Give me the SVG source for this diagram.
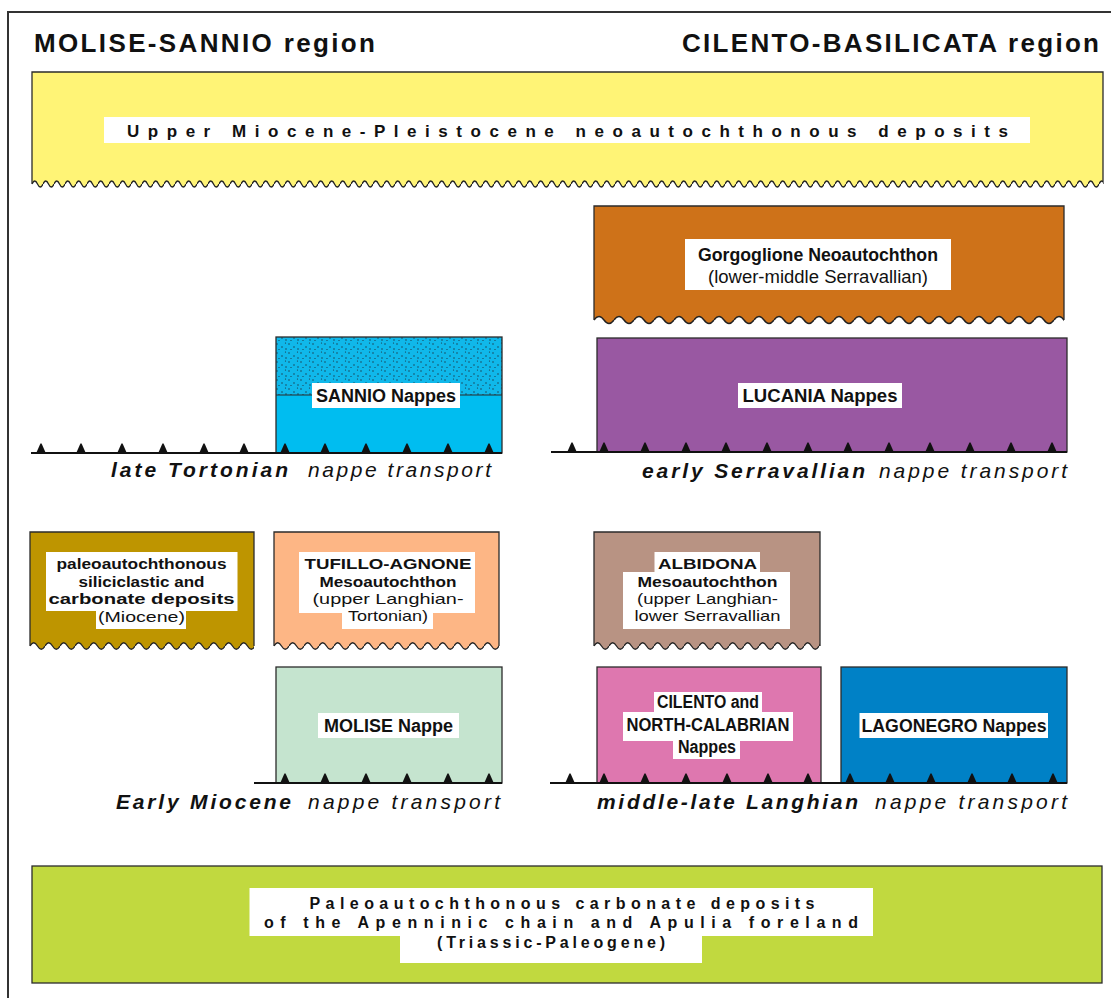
<svg xmlns="http://www.w3.org/2000/svg" width="1111" height="998" viewBox="0 0 1111 998">
<style>
.box{stroke:#2b2b2b;stroke-width:1.3}
.edge{fill:none;stroke:#2b2b2b;stroke-width:1.3}
.lbl{fill:#fff}
.t{font-family:"Liberation Sans",Arial,sans-serif;fill:#111;text-anchor:middle;font-size:17.5px}
.s4{font-size:15px}
.b{font-weight:bold}
.hd{font-family:"Liberation Sans",Arial,sans-serif;font-weight:bold;font-size:26px;fill:#111}
.cap{font-family:"Liberation Sans",Arial,sans-serif;font-style:italic;font-size:21px;fill:#111}
.sp{font-family:"Liberation Sans",Arial,sans-serif;font-weight:bold;fill:#111;text-anchor:middle}
.thrust{stroke:#111;stroke-width:2.2}
</style>
<defs>
<pattern id="w1" patternUnits="userSpaceOnUse" x="0" y="-5" width="11" height="10">
<path d="M0,5 Q2.75,-1 5.5,5 T11,5 V10 H0Z" fill="#fff"/>
<path d="M0,5 Q2.75,-1 5.5,5 T11,5" fill="none" stroke="#222" stroke-width="1.3"/>
</pattern>
<pattern id="w2" patternUnits="userSpaceOnUse" x="0" y="-6" width="20" height="12">
<path d="M0,6 Q5,-1 10,6 T20,6 V12 H0Z" fill="#fff"/>
<path d="M0,6 Q5,-1 10,6 T20,6" fill="none" stroke="#222" stroke-width="1.4"/>
</pattern>
<pattern id="w3" patternUnits="userSpaceOnUse" x="0" y="-6" width="15" height="12">
<path d="M0,6 Q3.75,-0.5 7.5,6 T15,6 V12 H0Z" fill="#fff"/>
<path d="M0,6 Q3.75,-0.5 7.5,6 T15,6" fill="none" stroke="#222" stroke-width="1.3"/>
</pattern>
<pattern id="dots" patternUnits="userSpaceOnUse" width="12" height="9">
<rect width="12" height="9" fill="#10b8ea"/>
<circle cx="1" cy="2" r="0.7" fill="#1b3140"/>
<circle cx="6" cy="5" r="0.7" fill="#1b3140"/>
<circle cx="9.5" cy="1" r="0.6" fill="#1b3140"/>
<circle cx="3" cy="7.5" r="0.6" fill="#1b3140"/>
<circle cx="10" cy="7" r="0.7" fill="#1b3140"/>
</pattern>
<path id="tooth" d="M-5,0.5 L-1,-8.5 L0,-10 L1,-8.5 L5,0.5Z" fill="#111"/>
</defs>

<rect x="8" y="12" width="1120" height="1000" fill="#fff" stroke="#333" stroke-width="2"/>

<g id="headers">
<text class="hd" x="34" y="52" textLength="341" lengthAdjust="spacing">MOLISE-SANNIO region</text>
<text class="hd" x="682" y="52" textLength="417" lengthAdjust="spacing">CILENTO-BASILICATA region</text>
</g>

<g id="neoautochthonous">
<rect x="32" y="72" width="1071" height="117" fill="#FFF476"/>
<path class="edge" d="M32,184 V72 H1103 V184"/>
<rect transform="translate(32,184)" x="0" y="-5" width="1071" height="10" fill="url(#w1)"/>
<rect class="lbl" x="104" y="117" width="926" height="26"/>
<text class="sp" x="567.5" y="137" font-size="17" textLength="881" lengthAdjust="spacing">Upper Miocene-Pleistocene neoautochthonous deposits</text>
</g>

<g id="gorgoglione">
<rect x="594" y="206" width="470" height="120" fill="#CE7219"/>
<path class="edge" d="M594,320 V206 H1064 V320"/>
<rect transform="translate(594,320)" x="0" y="-6" width="470" height="12" fill="url(#w2)"/>
<rect class="lbl" x="685" y="239" width="266" height="51"/>
<text class="t b" x="818" y="261" font-size="18.5" textLength="240" lengthAdjust="spacingAndGlyphs">Gorgoglione Neoautochthon</text>
<text class="t" x="818" y="283" font-size="18.5" textLength="220" lengthAdjust="spacingAndGlyphs">(lower-middle Serravallian)</text>
</g>

<g id="sannio">
<rect x="276" y="337" width="226" height="116" fill="#00BDF0"/>
<rect x="276" y="337" width="226" height="58" fill="url(#dots)"/>
<line x1="276" y1="395" x2="502" y2="395" stroke="#2b2b2b" stroke-width="1.2"/>
<rect class="box" x="276" y="337" width="226" height="116" fill="none"/>
<rect class="lbl" x="312" y="383" width="148" height="25"/>
<text class="t b" x="386" y="402" font-size="18.5" textLength="140" lengthAdjust="spacingAndGlyphs">SANNIO Nappes</text>
</g>

<g id="lucania">
<rect class="box" x="597" y="338" width="470" height="114" fill="#9958A2"/>
<rect class="lbl" x="738" y="383" width="164" height="25"/>
<text class="t b" x="820" y="402" font-size="18.5" textLength="155" lengthAdjust="spacingAndGlyphs">LUCANIA Nappes</text>
</g>

<g id="paleo-miocene">
<rect x="30" y="532" width="224" height="120" fill="#BE9500"/>
<path class="edge" d="M30,646 V532 H254 V646"/>
<rect transform="translate(30,646)" x="0" y="-6" width="224" height="12" fill="url(#w3)"/>
<rect class="lbl" x="46" y="552" width="191.5" height="59"/>
<rect class="lbl" x="96" y="610" width="90" height="19"/>
<text class="t b s4" x="141.5" y="569" textLength="170" lengthAdjust="spacingAndGlyphs">paleoautochthonous</text>
<text class="t b s4" x="141.5" y="587" textLength="126" lengthAdjust="spacingAndGlyphs">siliciclastic and</text>
<text class="t b s4" x="141.5" y="604" textLength="186" lengthAdjust="spacingAndGlyphs">carbonate deposits</text>
<text class="t s4" x="141.5" y="622" textLength="87" lengthAdjust="spacingAndGlyphs">(Miocene)</text>
</g>

<g id="tufillo">
<rect x="274" y="532" width="225" height="120" fill="#FDB685"/>
<path class="edge" d="M274,646 V532 H499 V646"/>
<rect transform="translate(274,646)" x="0" y="-6" width="225" height="12" fill="url(#w3)"/>
<rect class="lbl" x="299" y="552" width="176" height="61"/>
<rect class="lbl" x="342" y="612" width="91" height="17"/>
<text class="t b s4" x="388" y="569" textLength="167" lengthAdjust="spacingAndGlyphs">TUFILLO-AGNONE</text>
<text class="t b s4" x="388" y="587" textLength="137" lengthAdjust="spacingAndGlyphs">Mesoautochthon</text>
<text class="t s4" x="388" y="604" textLength="151" lengthAdjust="spacingAndGlyphs">(upper Langhian-</text>
<text class="t s4" x="388" y="621" textLength="80" lengthAdjust="spacingAndGlyphs">Tortonian)</text>
</g>

<g id="albidona">
<rect x="594" y="532" width="226" height="120" fill="#B89383"/>
<path class="edge" d="M594,646 V532 H820 V646"/>
<rect transform="translate(594,646)" x="0" y="-6" width="226" height="12" fill="url(#w3)"/>
<rect class="lbl" x="654.5" y="552" width="105.5" height="21"/>
<rect class="lbl" x="623" y="572" width="167" height="57"/>
<text class="t b s4" x="707.5" y="569" textLength="99" lengthAdjust="spacingAndGlyphs">ALBIDONA</text>
<text class="t b s4" x="707.5" y="587" textLength="140" lengthAdjust="spacingAndGlyphs">Mesoautochthon</text>
<text class="t s4" x="707.5" y="604" textLength="141" lengthAdjust="spacingAndGlyphs">(upper Langhian-</text>
<text class="t s4" x="707.5" y="621" textLength="146" lengthAdjust="spacingAndGlyphs">lower Serravallian</text>
</g>

<g id="molise">
<rect class="box" x="276" y="667" width="226" height="116" fill="#C5E4CF"/>
<rect class="lbl" x="318" y="713" width="141" height="25"/>
<text class="t b" x="388.5" y="732" font-size="18.5" textLength="129" lengthAdjust="spacingAndGlyphs">MOLISE Nappe</text>
</g>

<g id="cilento">
<rect class="box" x="597" y="667" width="224" height="116" fill="#DE77AF"/>
<rect class="lbl" x="654" y="692" width="108" height="21"/>
<rect class="lbl" x="623" y="712" width="170" height="29"/>
<rect class="lbl" x="673" y="740" width="67" height="19"/>
<text class="t b" x="708" y="708" textLength="102" lengthAdjust="spacingAndGlyphs">CILENTO and</text>
<text class="t b" x="708" y="731" textLength="163" lengthAdjust="spacingAndGlyphs">NORTH-CALABRIAN</text>
<text class="t b" x="707" y="753" textLength="58" lengthAdjust="spacingAndGlyphs">Nappes</text>
</g>

<g id="lagonegro">
<rect class="box" x="841" y="667" width="226" height="116" fill="#0081C6"/>
<rect class="lbl" x="859.5" y="713" width="188.5" height="25"/>
<text class="t b" x="954" y="732" font-size="18.5" textLength="185" lengthAdjust="spacingAndGlyphs">LAGONEGRO Nappes</text>
</g>

<g id="paleo-carbonate">
<rect class="box" x="32" y="866" width="1070" height="117" fill="#C1D93F"/>
<rect class="lbl" x="249.5" y="888" width="623.5" height="48"/>
<rect class="lbl" x="400" y="935" width="302" height="28"/>
<text class="sp" x="562" y="909" font-size="16" textLength="505" lengthAdjust="spacing">Paleoautochthonous carbonate deposits</text>
<text class="sp" x="561" y="928" font-size="16" textLength="594" lengthAdjust="spacing">of the Apenninic chain and Apulia foreland</text>
<text class="sp" x="551" y="948" font-size="16" font-weight="normal" textLength="228" lengthAdjust="spacing">(Triassic-Paleogene)</text>
</g>

<g id="connectors">
<line class="thrust" x1="31" y1="453" x2="502" y2="453"/>
<use href="#tooth" x="41" y="453"/><use href="#tooth" x="81" y="453"/><use href="#tooth" x="122" y="453"/><use href="#tooth" x="163" y="453"/><use href="#tooth" x="204" y="453"/><use href="#tooth" x="244" y="453"/><use href="#tooth" x="285" y="453"/><use href="#tooth" x="325" y="453"/><use href="#tooth" x="366" y="453"/><use href="#tooth" x="407" y="453"/><use href="#tooth" x="448" y="453"/><use href="#tooth" x="489" y="453"/>
<line class="thrust" x1="551" y1="452" x2="1067" y2="452"/>
<use href="#tooth" x="572" y="452"/><use href="#tooth" x="604" y="452"/><use href="#tooth" x="645" y="452"/><use href="#tooth" x="686" y="452"/><use href="#tooth" x="726" y="452"/><use href="#tooth" x="767" y="452"/><use href="#tooth" x="808" y="452"/><use href="#tooth" x="848" y="452"/><use href="#tooth" x="889" y="452"/><use href="#tooth" x="930" y="452"/><use href="#tooth" x="970" y="452"/><use href="#tooth" x="1011" y="452"/><use href="#tooth" x="1052" y="452"/>
<line class="thrust" x1="254" y1="783" x2="502" y2="783"/>
<use href="#tooth" x="285" y="783"/><use href="#tooth" x="325" y="783"/><use href="#tooth" x="366" y="783"/><use href="#tooth" x="407" y="783"/><use href="#tooth" x="448" y="783"/><use href="#tooth" x="489" y="783"/>
<line class="thrust" x1="550" y1="783" x2="1067" y2="783"/>
<use href="#tooth" x="570" y="783"/><use href="#tooth" x="604" y="783"/><use href="#tooth" x="645" y="783"/><use href="#tooth" x="686" y="783"/><use href="#tooth" x="727" y="783"/><use href="#tooth" x="768" y="783"/><use href="#tooth" x="808" y="783"/><use href="#tooth" x="850" y="783"/><use href="#tooth" x="890" y="783"/><use href="#tooth" x="931" y="783"/><use href="#tooth" x="972" y="783"/><use href="#tooth" x="1012" y="783"/><use href="#tooth" x="1053" y="783"/>
</g>

<g id="captions">
<text class="cap b" x="111" y="477" textLength="177" lengthAdjust="spacing">late Tortonian</text>
<text class="cap" x="308" y="477" textLength="183" lengthAdjust="spacing">nappe transport</text>
<text class="cap b" x="642" y="478" textLength="223" lengthAdjust="spacing">early Serravallian</text>
<text class="cap" x="879" y="478" textLength="188" lengthAdjust="spacing">nappe transport</text>
<text class="cap b" x="116" y="809" textLength="175" lengthAdjust="spacing">Early Miocene</text>
<text class="cap" x="308" y="809" textLength="192" lengthAdjust="spacing">nappe transport</text>
<text class="cap b" x="597" y="809" textLength="261" lengthAdjust="spacing">middle-late Langhian</text>
<text class="cap" x="875" y="809" textLength="192" lengthAdjust="spacing">nappe transport</text>
</g>
</svg>
